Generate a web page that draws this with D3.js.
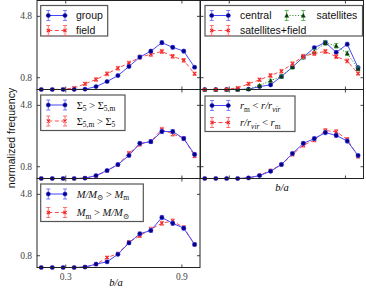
<!DOCTYPE html>
<meta charset="utf-8">
<style>
body { margin: 0; background: #fff; }
.tick text { font-family: "Liberation Serif", "DejaVu Serif", serif; font-size: 9.5px; fill: #444; }
.axis path { display: none; }
.axis line { stroke: #444; }
.leg { font-family: "Liberation Sans", Arial, sans-serif; font-size: 10.5px; fill: #111; }
.legm { font-family: "Liberation Serif", "DejaVu Serif", serif; font-size: 10.5px; fill: #111; }
</style>
<script src="https://d3js.org/d3.v7.min.js"></script>
<body>
<div id="chart"></div>
<script>
// bin centres of b/a
var ba = [0.176, 0.233, 0.289, 0.346, 0.402, 0.459, 0.516, 0.572, 0.629, 0.685, 0.742, 0.799, 0.855, 0.912, 0.968];
var xTicks = [0.3, 0.9];
var yTicks = [0.8, 4.8];

// panel 1
var group = [0, 0, 0, 0, 0.02, 0.19, 0.52, 0.91, 1.5, 2.11, 2.5, 3.05, 2.75, 2.5, 1.45];
var groupErr = [0.02, 0.02, 0.02, 0.03, 0.04, 0.06, 0.07, 0.08, 0.09, 0.1, 0.11, 0.12, 0.11, 0.11, 0.09];
var field = [0, 0, 0.02, 0.1, 0.37, 0.65, 1.02, 1.39, 1.72, 2.11, 2.29, 2.48, 2.16, 1.9, 1.03];
var fieldErr = [0.02, 0.03, 0.04, 0.07, 0.1, 0.11, 0.12, 0.12, 0.12, 0.13, 0.13, 0.13, 0.12, 0.12, 0.1];
// panel 2
var central = [0, 0, 0, 0, 0.02, 0.19, 0.3, 0.85, 1.46, 2.11, 2.72, 3.07, 2.42, 2.95, 1.42];
var centralErr = [0.02, 0.02, 0.02, 0.02, 0.03, 0.05, 0.06, 0.08, 0.09, 0.1, 0.11, 0.12, 0.11, 0.12, 0.1];
var satellites = [0, 0, 0, 0, 0.02, 0.26, 0.58, 0.85, 1.46, 2.11, 2.47, 3.03, 2.85, 2.35, 1.35];
var satellitesErr = [0.02, 0.02, 0.02, 0.02, 0.04, 0.07, 0.09, 0.1, 0.12, 0.13, 0.14, 0.15, 0.15, 0.14, 0.12];
var satField = [0, 0, 0.02, 0.1, 0.37, 0.63, 0.91, 1.19, 1.68, 2.16, 2.35, 2.48, 2.14, 1.86, 1.04];
var satFieldErr = [0.02, 0.03, 0.04, 0.07, 0.1, 0.11, 0.12, 0.12, 0.12, 0.13, 0.13, 0.13, 0.12, 0.12, 0.1];
// panel 3
var sigHi = [0, 0, 0, 0, 0.02, 0.19, 0.52, 0.91, 1.5, 2.29, 2.4, 3.06, 3.06, 2.6, 1.57];
var sigHiErr = [0.02, 0.02, 0.02, 0.02, 0.04, 0.06, 0.08, 0.09, 0.1, 0.11, 0.12, 0.13, 0.13, 0.12, 0.1];
var sigLo = [0, 0, 0, 0, 0.03, 0.17, 0.5, 0.9, 1.65, 2.22, 2.42, 3.2, 2.9, 2.62, 1.46];
var sigLoErr = [0.02, 0.02, 0.02, 0.02, 0.04, 0.06, 0.08, 0.09, 0.1, 0.11, 0.12, 0.13, 0.13, 0.12, 0.1];
// panel 4
var rOut = [0, 0, 0, 0, 0.04, 0.19, 0.47, 0.91, 1.63, 2.29, 2.6, 2.99, 2.81, 2.44, 1.5];
var rOutErr = [0.02, 0.02, 0.02, 0.02, 0.04, 0.06, 0.08, 0.09, 0.1, 0.11, 0.12, 0.13, 0.13, 0.12, 0.1];
var rIn = [0, 0, 0, 0, 0.04, 0.21, 0.52, 0.91, 1.57, 2.16, 2.51, 3.12, 3.05, 2.55, 1.43];
var rInErr = [0.02, 0.02, 0.02, 0.02, 0.04, 0.06, 0.08, 0.09, 0.1, 0.11, 0.12, 0.13, 0.13, 0.12, 0.1];
// panel 5
var massHi = [0, 0, 0, 0, 0.03, 0.22, 0.37, 0.86, 1.6, 2.2, 2.41, 3.26, 2.88, 2.56, 1.5];
var massHiErr = [0.02, 0.02, 0.02, 0.02, 0.04, 0.06, 0.08, 0.09, 0.1, 0.11, 0.12, 0.13, 0.13, 0.12, 0.1];
var massLo = [0, 0, 0, 0, 0.03, 0.2, 0.65, 0.9, 1.65, 2.07, 2.5, 2.88, 3.03, 2.6, 1.5];
var massLoErr = [0.02, 0.02, 0.02, 0.02, 0.04, 0.06, 0.08, 0.09, 0.1, 0.11, 0.12, 0.13, 0.13, 0.12, 0.1];

var styles = {
    blue: {line: "#4646ff", err: "#6f6fff", mark: "#00008f", dash: null, marker: "circle"},
    red: {line: "#ff4a4a", err: "#ff6262", mark: "#f02020", dash: "4,2.5", marker: "x"},
    green: {line: "#3a9a3a", err: "#4caf4c", mark: "#0a3d0a", dash: "1.2,1.6", marker: "tri"}
};

var W = 366, H = 289;
var pw = 163, ph = 89;
var colX = [37, 200.5], rowY = [0.5, 89.5, 178.5];

var svg = d3.select("#chart").append("svg")
    .attr("width", W).attr("height", H);

function drawMarker(g, type, cx, cy, color) {
    if (type == "circle") {
        g.append("circle").attr("cx", cx).attr("cy", cy).attr("r", 2.1)
            .attr("fill", color).attr("stroke", "#2020c0").attr("stroke-width", 0.5);
    } else if (type == "x") {
        var s = 1.6;
        g.append("path").attr("d", "M" + (cx - s) + "," + (cy - s) + "L" + (cx + s) + "," + (cy + s) +
            "M" + (cx - s) + "," + (cy + s) + "L" + (cx + s) + "," + (cy - s))
            .attr("stroke", color).attr("stroke-width", 1.1);
    } else {
        var t = 2.4;
        g.append("path").attr("d", "M" + cx + "," + (cy - t) + "L" + (cx + t) + "," + (cy + t * 0.8) +
            "L" + (cx - t) + "," + (cy + t * 0.8) + "Z").attr("fill", color);
    }
}

function drawSeries(g, x, y, vals, errs, st) {
    var pts = ba.map(function(b, i) { return [x(b), y(vals[i])]; });
    g.append("path").attr("d", d3.line()(pts))
        .attr("fill", "none").attr("stroke", st.line).attr("stroke-width", 1)
        .attr("stroke-dasharray", st.dash);
    ba.forEach(function(b, i) {
        var cx = x(b), y1 = y(vals[i] - errs[i]), y2 = y(vals[i] + errs[i]);
        g.append("line").attr("x1", cx).attr("x2", cx).attr("y1", y1).attr("y2", y2)
            .attr("stroke", st.err).attr("stroke-width", 0.9);
        [y1, y2].forEach(function(yy) {
            g.append("line").attr("x1", cx - 2).attr("x2", cx + 2).attr("y1", yy).attr("y2", yy)
                .attr("stroke", st.err).attr("stroke-width", 0.9);
        });
    });
    pts.forEach(function(p) { drawMarker(g, st.marker, p[0], p[1], st.mark); });
}

function legendEntry(g, x1, x2, yy, st, label, tx, math) {
    g.append("line").attr("x1", x1).attr("x2", x2).attr("y1", yy).attr("y2", yy)
        .attr("stroke", st.line).attr("stroke-width", 1).attr("stroke-dasharray", st.dash);
    [x1, x2].forEach(function(xx) {
        g.append("line").attr("x1", xx).attr("x2", xx).attr("y1", yy - 5).attr("y2", yy + 5)
            .attr("stroke", st.err).attr("stroke-width", 0.9);
        [yy - 5, yy + 5].forEach(function(c) {
            g.append("line").attr("x1", xx - 2).attr("x2", xx + 2).attr("y1", c).attr("y2", c)
                .attr("stroke", st.err).attr("stroke-width", 0.9);
        });
        drawMarker(g, st.marker, xx, yy, st.mark);
    });
    var t = g.append("text").attr("x", tx).attr("y", yy + 3.8).attr("class", math ? "legm" : "leg");
    if (!math) { t.text(label); return; }
    label.forEach(function(p) {
        var s = t.append("tspan").text(p.t);
        if (p.i) s.attr("font-style", "italic");
        if (p.sub) s.attr("font-size", "7.5px").attr("dy", 2.5);
        if (p.up) s.attr("dy", -2.5);
    });
}

function panel(col, row, series, legend, showY, showX) {
    var x0 = colX[col], y0 = rowY[row];
    var x = d3.scaleLinear().domain([0.154, 0.996]).range([x0, x0 + pw]);
    var y = d3.scaleLinear().domain([0, 5.8]).range([y0 + ph, y0]);
    var g = svg.append("g");

    g.append("g").attr("class", "axis").attr("transform", "translate(0," + (y0 + ph) + ")")
        .call(d3.axisBottom(x).tickValues(xTicks).tickSizeInner(-3).tickSizeOuter(0).tickPadding(6)
            .tickFormat(showX ? d3.format(".1f") : ""));
    g.append("g").attr("class", "axis").attr("transform", "translate(0," + y0 + ")")
        .call(d3.axisTop(x).tickValues(xTicks).tickSizeInner(-3).tickSizeOuter(0).tickFormat(""));
    g.append("g").attr("class", "axis").attr("transform", "translate(" + x0 + ",0)")
        .call(d3.axisLeft(y).tickValues(yTicks).tickSizeInner(-3).tickSizeOuter(0).tickPadding(5)
            .tickFormat(showY ? d3.format(".1f") : ""));
    g.append("g").attr("class", "axis").attr("transform", "translate(" + (x0 + pw) + ",0)")
        .call(d3.axisRight(y).tickValues(yTicks).tickSizeInner(-3).tickSizeOuter(0).tickFormat(""));

    series.forEach(function(s) { drawSeries(g, x, y, s[0], s[1], s[2]); });

    g.append("rect").attr("x", x0).attr("y", y0).attr("width", pw).attr("height", ph)
        .attr("fill", "none").attr("stroke", "#222").attr("stroke-width", 1);

    var lg = g.append("g");
    lg.append("rect").attr("x", legend.box[0]).attr("y", legend.box[1])
        .attr("width", legend.box[2]).attr("height", legend.box[3])
        .attr("fill", "#fff").attr("stroke", "#555").attr("stroke-width", 1.2);
    legend.items.forEach(function(it) {
        legendEntry(lg, it[0], it[1], it[2], it[3], it[4], it[5], it[6]);
    });
}

panel(0, 0, [[field, fieldErr, styles.red], [group, groupErr, styles.blue]], {
    box: [40.7, 5.5, 67, 30.5],
    items: [[48.3, 65, 15.5, styles.blue, "group", 76, false],
            [48.3, 65, 30.5, styles.red, "field", 76, false]]
}, true, false);

panel(1, 0, [[central, centralErr, styles.blue], [satellites, satellitesErr, styles.green],
             [satField, satFieldErr, styles.red]], {
    box: [205, 5.5, 157.5, 30.5],
    items: [[211.7, 228.3, 15.5, styles.blue, "central", 240, false],
            [286.7, 303.3, 15.5, styles.green, "satellites", 316.5, false],
            [211.7, 228.3, 30.5, styles.red, "satellites+field", 240, false]]
}, false, false);

panel(0, 1, [[sigLo, sigLoErr, styles.red], [sigHi, sigHiErr, styles.blue]], {
    box: [40.7, 95, 84.3, 35.5],
    items: [[48.3, 65, 105, styles.blue, [{t: "Σ"}, {t: "5", sub: 1}, {t: " > Σ", up: 1}, {t: "5,m", sub: 1}], 76.7, true],
            [48.3, 65, 121, styles.red, [{t: "Σ"}, {t: "5,m", sub: 1}, {t: " > Σ", up: 1}, {t: "5", sub: 1}], 76.7, true]]
}, true, false);

panel(1, 1, [[rIn, rInErr, styles.red], [rOut, rOutErr, styles.blue]], {
    box: [205, 96, 90, 35.5],
    items: [[212, 228.3, 105.5, styles.blue, [{t: "r", i: 1}, {t: "m", sub: 1}, {t: " < ", up: 1}, {t: "r/r", i: 1}, {t: "vir", sub: 1, i: 1}], 240, true],
            [212, 228.3, 122.5, styles.red, [{t: "r/r", i: 1}, {t: "vir", sub: 1, i: 1}, {t: " < ", up: 1}, {t: "r", i: 1}, {t: "m", sub: 1}], 240, true]]
}, false, false);

panel(0, 2, [[massLo, massLoErr, styles.red], [massHi, massHiErr, styles.blue]], {
    box: [40.7, 184, 102.6, 37.5],
    items: [[48.3, 65, 194, styles.blue, [{t: "M/M", i: 1}, {t: "⊙", sub: 1}, {t: " > ", up: 1}, {t: "M", i: 1}, {t: "m", sub: 1}], 76.7, true],
            [48.3, 65, 212.5, styles.red, [{t: "M", i: 1}, {t: "m", sub: 1}, {t: " > ", up: 1}, {t: "M/M", i: 1}, {t: "⊙", sub: 1}], 76.7, true]]
}, true, true);

// axis titles
svg.append("text").attr("x", 116).attr("y", 286).attr("text-anchor", "middle")
    .attr("font-family", "Liberation Serif, serif").attr("font-style", "italic")
    .attr("font-size", "10.5px").text("b/a");
svg.append("text").attr("x", 282).attr("y", 191).attr("text-anchor", "middle")
    .attr("font-family", "Liberation Serif, serif").attr("font-style", "italic")
    .attr("font-size", "10.5px").text("b/a");
svg.append("text").attr("transform", "translate(11,138) rotate(-90)")
    .attr("text-anchor", "middle").attr("dy", "0.35em")
    .attr("font-family", "Liberation Sans, Arial, sans-serif").attr("font-size", "10.5px")
    .attr("fill", "#111").text("normalized frequency");
</script>
</body>
